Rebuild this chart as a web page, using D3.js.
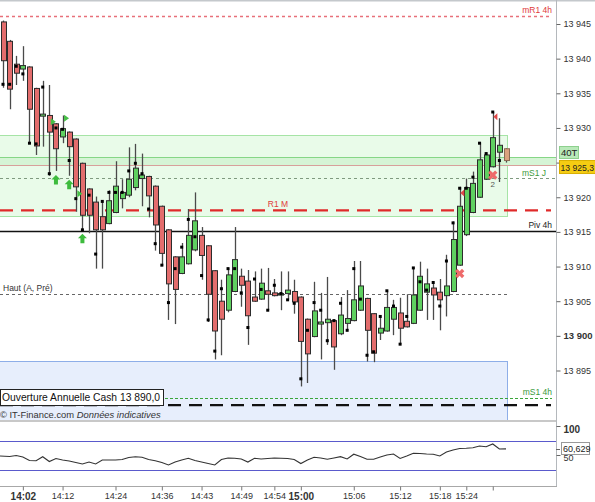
<!DOCTYPE html>
<html><head><meta charset="utf-8">
<script src="https://cdn.jsdelivr.net/npm/d3@7/dist/d3.min.js"></script>
<style>
html,body{margin:0;padding:0;background:#fff;}
svg{display:block;font-family:"Liberation Sans",Arial,Helvetica,sans-serif;}
</style></head><body>
<svg id="chart" width="595" height="502"></svg>
<script>
// ---------- DATA ----------
const opens = [13945.3,13942.5,13939.2,13938.5,13938.8,13935.7,13931.7,13931.8,13930.6,13928.7,
13929.4,13928.4,13924.9,13921.2,13919.3,13917.2,13916.2,13917.8,13919.8,13920.3,
13921.4,13922.7,13923.0,13921.6,13918.7,13915.3,13911.4,13909.0,13910.4,13912.4,
13914.5,13913.0,13909.4,13905.0,13903.7,13906.4,13908.6,13907.9,13905.6,13905.3,
13906.5,13906.2,13905.9,13906.1,13906.4,13905.6,13902.4,13899.9,13901.7,13901.9,
13902.2,13900.3,13901.8,13902.2,13903.7,13905.4,13903.2,13900.4,13900.7,13902.4,
13903.3,13902.1,13901.8,13903.7,13906.3,13906.9,13906.3,13905.8,13906.4,13910.2,
13914.6,13917.8,13920.0,13922.6,13924.4,13926.5,13927.0];
const highs = [13945.5,13942.7,13940.4,13941.8,13938.9,13935.8,13936.8,13936.2,13930.7,13931.8,
13929.5,13928.5,13925.0,13921.3,13920.1,13919.6,13921.0,13925.2,13922.6,13927.2,
13927.7,13926.3,13923.1,13921.7,13918.8,13915.4,13911.5,13913.4,13918.3,13920.7,
13915.7,13913.1,13909.5,13908.1,13909.8,13915.7,13909.7,13909.5,13909.3,13909.7,
13909.8,13908.2,13909.3,13909.3,13908.1,13905.7,13902.5,13907.8,13906.2,13908.5,
13902.3,13905.6,13906.6,13910.8,13910.8,13905.5,13903.3,13902.8,13906.4,13905.2,
13905.5,13906.0,13909.8,13910.7,13909.7,13907.8,13908.2,13911.7,13916.5,13921.5,
13922.7,13923.7,13927.9,13926.5,13932.3,13931.4,13927.1];
const lows = [13935.8,13932.7,13936.2,13936.8,13927.8,13926.1,13927.3,13923.1,13923.8,13927.8,
13923.1,13917.9,13915.3,13914.8,13909.7,13909.7,13916.1,13917.7,13918.4,13920.0,
13921.0,13918.7,13917.1,13912.3,13910.1,13902.3,13901.7,13908.9,13910.3,13912.2,
13908.1,13902.0,13896.6,13897.2,13903.4,13906.3,13904.2,13898.7,13904.9,13905.2,
13903.7,13905.7,13903.7,13905.2,13903.2,13892.7,13893.2,13899.8,13896.6,13898.7,
13895.1,13900.1,13900.8,13902.1,13903.6,13896.3,13896.2,13899.4,13900.6,13900.1,
13898.8,13901.2,13901.7,13903.6,13902.3,13902.3,13900.8,13902.8,13906.3,13910.1,
13914.4,13917.7,13919.9,13922.5,13924.3,13922.2,13925.0];
const closes = [13939.7,13935.6,13937.9,13939.0,13932.7,13927.4,13932.0,13929.4,13927.0,13929.9,
13927.3,13921.5,13917.4,13917.4,13915.3,13915.3,13919.5,13921.6,13920.7,13922.6,
13924.2,13923.2,13920.2,13916.0,13911.9,13907.5,13906.7,13911.4,13914.5,13916.6,
13911.6,13906.0,13900.7,13902.4,13908.8,13911.0,13907.3,13902.9,13905.0,13907.6,
13906.0,13905.8,13906.1,13906.6,13904.9,13899.2,13897.4,13903.6,13902.0,13902.4,
13898.4,13903.0,13902.5,13905.2,13907.2,13900.8,13897.5,13901.1,13904.1,13904.1,
13901.1,13901.3,13905.9,13908.6,13907.5,13905.9,13905.2,13907.2,13913.9,13918.7,
13921.4,13922.0,13925.4,13926.1,13928.6,13927.5,13925.3];
const markers = [13936.3,13936.3,13938.9,13937.8,13927.8,13927.7,13935.9,13923.4,13930.0,13929.8,
13925.3,13919.8,13915.3,13920.3,13911.8,13919.4,13920.7,13920.7,13920.7,13923.8,
13924.9,13923.4,13918.3,13913.3,13910.2,13904.8,13909.7,13912.8,13916.8,13914.3,
13908.7,13902.3,13897.8,13906.8,13909.7,13909.7,13906.2,13901.2,13908.2,13906.7,
13903.7,13907.3,13906.1,13905.2,13904.7,13893.8,13900.8,13904.8,13903.7,13899.3,
13902.2,13904.7,13900.8,13909.7,13905.3,13897.2,13897.7,13902.8,13906.5,13904.3,
13898.8,13902.8,13909.8,13907.8,13906.6,13907.7,13904.3,13910.8,13916.3,13921.3,
13921.3,13922.9,13927.8,13926.3,13932.3,13925.3,null];
const oscValues = [48.3,47.4,49.1,46.6,40.5,40.2,47.1,38.8,44.0,41.4,
39.7,37.1,34.5,37.9,34.5,41.4,41.4,41.4,42.2,45.7,
47.1,46.0,42.2,40.2,37.1,32.8,37.9,41.4,44.3,40.5,
37.9,35.3,32.8,42.2,44.8,44.3,43.1,37.9,44.3,43.1,
44.0,44.8,44.3,44.0,42.2,35.3,41.4,46.0,44.8,42.6,
44.8,47.1,43.1,51.4,47.4,42.6,42.6,46.6,50.0,51.7,
44.0,48.3,52.9,52.6,51.7,51.2,48.3,55.2,58.6,61.2,
61.7,62.6,65.5,64.3,69.0,60.3,60.629];
const oscLevels = [75, 25];
const oscTicks = [100, 50];

const timeTickIdx = [3,9,17,24,30,36,41,45,53,60,66,70,74];
const timeTickLabels = ["14:02","14:12","14:24","14:36","14:43","14:49","14:54","15:00","15:06","15:12","15:18","15:24",""];
const boldTimeLabels = ["14:02","15:00"];
const priceTicks = [13895,13900,13905,13910,13915,13920,13925,13930,13935,13940,13945];
const boldPriceTicks = [13900];
const hiddenPriceTicks = [13925];

const levelNames = ["mR1 4h","mS1 J","R1 M","Piv 4h","Haut (A, Pré)","mS1 4h","Ouverture Annuelle Cash 13 890,0"];
const levelValues = [13946.2,13922.8,13918.1,13915.1,13906.0,13891.1,13890.0];
const greenZone = [13929.0,13917.3];
const greenBand = [13925.8,13924.6];
const blueZone = [13896.4,13880.0];

const upArrowIdx = [8,10,12];
const greenFlagIdx = [7,9,11];
const greenFlagVal = [13930.9,13931.4,13920.5];
const redCrossIdx = [69,74];
const redCrossVal = [13909.0,13923.2];
const redCrossText = ["","2"];
const redFlagIdx = [70,75];
const redFlagVal = [13920.6,13931.6];
const barType = "40T";
const credit = ["© IT-Finance.com ","Données indicatives"];

// ---------- CHART ----------
const svg = d3.select("#chart");
const plotR = 556, mainT = 2, mainB = 420, oscT = 422, oscB = 486;
const n = opens.length;
const x = d3.scaleLinear().domain([0, n - 1]).range([3, 506]);
const y = d3.scaleLinear().domain([13895, 13945]).range([370.5, 24]);
const yo = d3.scaleLinear().domain([0, 100]).range([484, 426]);
const loc = d3.formatLocale({decimal: ",", thousands: "\u00a0", grouping: [3], currency: ["", ""]});
const fmtInt = loc.format(","), fmt1 = loc.format(",.1f"), fmt3 = loc.format(".3f");
const px = v => Math.round(v) + 0.5;
const xEnd = x(n - 1) + 1.5;

const defs = svg.append("defs");
defs.append("clipPath").attr("id", "cm").append("rect").attr("x", 0).attr("y", mainT).attr("width", plotR).attr("height", mainB - mainT);
defs.append("clipPath").attr("id", "co").append("rect").attr("x", 0).attr("y", oscT).attr("width", plotR).attr("height", oscB - oscT);

const main = svg.append("g").attr("clip-path", "url(#cm)");

// zones
main.append("rect").attr("x", -1).attr("y", px(y(greenZone[0])))
  .attr("width", xEnd + 1).attr("height", Math.round(y(greenZone[1]) - y(greenZone[0])))
  .attr("fill", "#e9fbe9").attr("stroke", "#a6e4a6").attr("stroke-width", 1);
main.append("rect").attr("x", 0).attr("y", px(y(greenBand[0])))
  .attr("width", plotR).attr("height", Math.round(y(greenBand[1]) - y(greenBand[0])))
  .attr("fill", "#d5f4d5");
main.append("line").attr("x1", 0).attr("x2", plotR).attr("y1", px(y(greenBand[0]))).attr("y2", px(y(greenBand[0])))
  .attr("stroke", "#86d686").attr("stroke-width", 1.2);
main.append("line").attr("x1", 0).attr("x2", plotR).attr("y1", px(y(greenBand[1]))).attr("y2", px(y(greenBand[1])))
  .attr("stroke", "#d7a09a").attr("stroke-width", 1.2);
main.append("rect").attr("x", -1).attr("y", px(y(blueZone[0])))
  .attr("width", xEnd + 1).attr("height", y(blueZone[1]) - y(blueZone[0]))
  .attr("fill", "#e7eefc").attr("stroke", "#8eaee8").attr("stroke-width", 1);

// level lines
const levelStyle = {
  "mR1 4h": {stroke: "#e8707a", w: 1.6, dash: "3,3", x2: 552},
  "mS1 J": {stroke: "#7f9a7f", w: 1, dash: "3,3", x2: 555},
  "R1 M": {stroke: "#e02a2a", w: 2.4, dash: "13,8", x2: 551},
  "Piv 4h": {stroke: "#111", w: 1.6, dash: null, x2: 556},
  "Haut (A, Pré)": {stroke: "#666", w: 1, dash: "3,3", x2: 507},
  "mS1 4h": {stroke: "#3aa53a", w: 1, dash: "3,2", x2: 552},
  "Ouverture Annuelle Cash 13 890,0": {stroke: "#111", w: 2.4, dash: "13,8", x2: 551}
};
levelNames.forEach((nm, i) => {
  const s = levelStyle[nm];
  const yy = (s.w >= 2) ? y(levelValues[i]) : px(y(levelValues[i]));
  main.append("line").attr("x1", 0).attr("x2", s.x2).attr("y1", yy).attr("y2", yy)
    .attr("stroke", s.stroke).attr("stroke-width", s.w).attr("stroke-dasharray", s.dash);
});

// candles
const candles = opens.map((o, i) => ({i, o, h: highs[i], l: lows[i], c: closes[i], m: markers[i]}));
const cg = main.append("g");
cg.selectAll("line.wick").data(candles).join("line").attr("class", "wick")
  .attr("x1", d => px(x(d.i))).attr("x2", d => px(x(d.i)))
  .attr("y1", d => y(d.h)).attr("y2", d => y(d.l))
  .attr("stroke", "#4a4a4a").attr("stroke-width", 1.3);
cg.selectAll("rect.body").data(candles).join("rect").attr("class", "body")
  .attr("x", d => Math.round(x(d.i) - 2.5) + 0.5)
  .attr("y", d => y(Math.max(d.o, d.c)))
  .attr("width", 5)
  .attr("height", d => Math.max(1.5, Math.abs(y(d.o) - y(d.c))))
  .attr("fill", d => d.i === n - 1 ? "#dba27e" : (d.c >= d.o ? "#5fd060" : "#e36d6d"))
  .attr("stroke", d => d.i === n - 1 ? "#8c6a55" : "#2c2c2c").attr("stroke-width", 1);
cg.selectAll("rect.mk").data(candles.filter(d => d.m !== null)).join("rect").attr("class", "mk")
  .attr("x", d => x(d.i) - 1.5).attr("y", d => y(d.m) - 1.5)
  .attr("width", 3).attr("height", 3).attr("fill", "#000");

// annotations
const arrowPath = "M0,0 L4.5,4.5 L2,4.5 L2,9.5 L-2,9.5 L-2,4.5 L-4.5,4.5 Z";
main.selectAll("path.up").data(upArrowIdx).join("path").attr("class", "up")
  .attr("d", arrowPath).attr("fill", "#3dbb3d")
  .attr("transform", i => `translate(${x(i)},${y(lows[i]) + 4})`);
main.selectAll("path.gf").data(greenFlagIdx).join("path").attr("class", "gf")
  .attr("d", "M0,-3.5 L5,0 L0,3.5 Z").attr("fill", "#46c046")
  .attr("transform", (i, k) => `translate(${x(i) + 1.5},${y(greenFlagVal[k])})`);
main.selectAll("path.rf").data(redFlagIdx).join("path").attr("class", "rf")
  .attr("d", "M0,-3.5 L-4,0 L0,3.5 Z").attr("fill", "#e04848")
  .attr("transform", (i, k) => `translate(${x(i) - 2},${y(redFlagVal[k])})`);
const crossSym = d3.symbol().type(d3.symbolCross).size(55);
main.selectAll("path.rx").data(redCrossIdx).join("path").attr("class", "rx")
  .attr("d", crossSym).attr("fill", "#ee6a6a")
  .attr("transform", (i, k) => `translate(${x(i)},${y(redCrossVal[k])}) rotate(45)`);
main.selectAll("text.rxt").data(redCrossIdx).join("text").attr("class", "rxt")
  .attr("x", i => x(i)).attr("y", (i, k) => y(redCrossVal[k]) + 12)
  .attr("text-anchor", "middle").attr("font-size", 8).attr("fill", "#555")
  .text((i, k) => redCrossText[k]);

// level labels
const labelStyle = {
  "mR1 4h": {x: 552, anchor: "end", fill: "#e03a3a", dy: -3},
  "mS1 J": {x: 546, anchor: "end", fill: "#3e9a3e", dy: -2},
  "R1 M": {x: 278, anchor: "middle", fill: "#e03a3a", dy: -3},
  "Piv 4h": {x: 552, anchor: "end", fill: "#222", dy: -3},
  "Haut (A, Pré)": {x: 3, anchor: "start", fill: "#333", dy: -3},
  "mS1 4h": {x: 552, anchor: "end", fill: "#3a9a3a", dy: -3}
};
const lab = svg.append("g");
levelNames.forEach((nm, i) => {
  const s = labelStyle[nm];
  if (!s) return;
  lab.append("text").attr("x", s.x).attr("y", y(levelValues[i]) + s.dy)
    .attr("text-anchor", s.anchor).attr("font-size", 8.5).attr("fill", s.fill).text(nm);
});
// Ouverture box label
{
  const yy = y(levelValues[6]);
  const g = lab.append("g");
  const t = g.append("text").attr("x", 2).attr("y", yy - 4).attr("font-size", 10.3).attr("fill", "#111").text(levelNames[6]);
  const w = t.node().getComputedTextLength();
  g.insert("rect", "text").attr("x", 0.5).attr("y", px(yy - 16.5)).attr("width", Math.round(w + 5)).attr("height", 16)
    .attr("fill", "#fff").attr("stroke", "#222").attr("stroke-width", 1);
}
// credit
{
  const t = lab.append("text").attr("x", 0).attr("y", 418).attr("font-size", 9.4).attr("fill", "#333");
  t.append("tspan").text(credit[0]);
  t.append("tspan").attr("font-style", "italic").text(credit[1]);
}

// frame lines
svg.append("line").attr("x1", 0).attr("x2", 595).attr("y1", 0.5).attr("y2", 0.5).attr("stroke", "#c4c8cc").attr("stroke-width", 2);
svg.append("line").attr("x1", 0).attr("x2", plotR).attr("y1", 421).attr("y2", 421).attr("stroke", "#c8c8c8").attr("stroke-width", 2);
svg.append("line").attr("x1", plotR + 0.5).attr("x2", plotR + 0.5).attr("y1", 0).attr("y2", oscB).attr("stroke", "#b4b8bc");
svg.append("line").attr("x1", 0).attr("x2", plotR + 1).attr("y1", oscB + 0.5).attr("y2", oscB + 0.5).attr("stroke", "#a8a8a8");

// price axis
const ya = svg.append("g").attr("transform", `translate(${plotR + 0.5},0)`)
  .call(d3.axisRight(y).tickValues(priceTicks).tickSize(4).tickPadding(3)
    .tickFormat(d => hiddenPriceTicks.includes(d) ? "" : fmtInt(d)));
ya.select(".domain").remove();
ya.selectAll(".tick line").attr("stroke", "#666");
ya.selectAll(".tick text").attr("fill", "#333").attr("font-family", null)
  .attr("font-weight", d => boldPriceTicks.includes(d) ? "bold" : null)
  .attr("font-size", d => boldPriceTicks.includes(d) ? 9.5 : 9);

// bar type box & price tag
{
  const yb = px(y(greenBand[0]));
  svg.append("rect").attr("x", 559.5).attr("y", yb - 11).attr("width", 19).attr("height", 12)
    .attr("fill", "#b9e9b9").attr("stroke", "#8ed08e");
  svg.append("text").attr("x", 561).attr("y", yb - 1.5).attr("font-size", 9.5).attr("fill", "#222").text(barType);
  const yc = y(closes[n - 1]) + 6.5;
  svg.append("rect").attr("x", 559.5).attr("y", yc - 6.5).attr("width", 40).attr("height", 13)
    .attr("fill", "#f5cc12").attr("stroke", "#d8ae00");
  svg.append("text").attr("x", 560.5).attr("y", yc + 3.5).attr("font-size", 8.6).attr("fill", "#222").text(fmt1(closes[n - 1]));
}

// oscillator
const osc = svg.append("g").attr("clip-path", "url(#co)");
oscLevels.forEach(v => {
  osc.append("line").attr("x1", 0).attr("x2", plotR).attr("y1", px(yo(v))).attr("y2", px(yo(v)))
    .attr("stroke", "#5a5acc").attr("stroke-width", 1);
});
osc.append("path").datum(oscValues)
  .attr("d", d3.line().x((d, i) => i === 0 ? 0 : x(i)).y(d => yo(d)))
  .attr("fill", "none").attr("stroke", "#333").attr("stroke-width", 1.1);
const oa = svg.append("g").attr("transform", `translate(${plotR + 0.5},0)`)
  .call(d3.axisRight(yo).tickValues(oscTicks).tickSize(4).tickPadding(3).tickFormat(d3.format("d")));
oa.select(".domain").remove();
oa.selectAll(".tick line").attr("stroke", "#666");
oa.selectAll(".tick text").attr("font-family", null).attr("fill", "#333")
  .attr("font-size", d => d === 100 ? 10 : 9).attr("font-weight", d => d === 100 ? "bold" : null)
  .attr("dy", "0.6em");
{
  const last = oscValues[n - 1];
  const yl = yo(last);
  svg.append("line").attr("x1", plotR).attr("x2", plotR + 4).attr("y1", px(yl)).attr("y2", px(yl)).attr("stroke", "#666");
  svg.append("rect").attr("x", 561.5).attr("y", Math.round(yl - 6.5) + 0.5).attr("width", 28).attr("height", 12)
    .attr("fill", "#fff").attr("stroke", "#999");
  svg.append("text").attr("x", 563).attr("y", yl + 3.2).attr("font-size", 9).attr("fill", "#222").text(fmt3(last));
}

// time axis
const xa = svg.append("g").attr("transform", `translate(0,${oscB + 0.5})`)
  .call(d3.axisBottom(x).tickValues(timeTickIdx).tickSize(4).tickPadding(2)
    .tickFormat((d, i) => timeTickLabels[i]));
xa.select(".domain").remove();
xa.selectAll(".tick line").attr("stroke", "#777");
xa.selectAll(".tick text").attr("font-family", null).attr("fill", "#333")
  .attr("font-size", (d, i) => boldTimeLabels.includes(timeTickLabels[i]) ? 10 : 9)
  .attr("font-weight", (d, i) => boldTimeLabels.includes(timeTickLabels[i]) ? "bold" : null);
</script>
</body></html>
